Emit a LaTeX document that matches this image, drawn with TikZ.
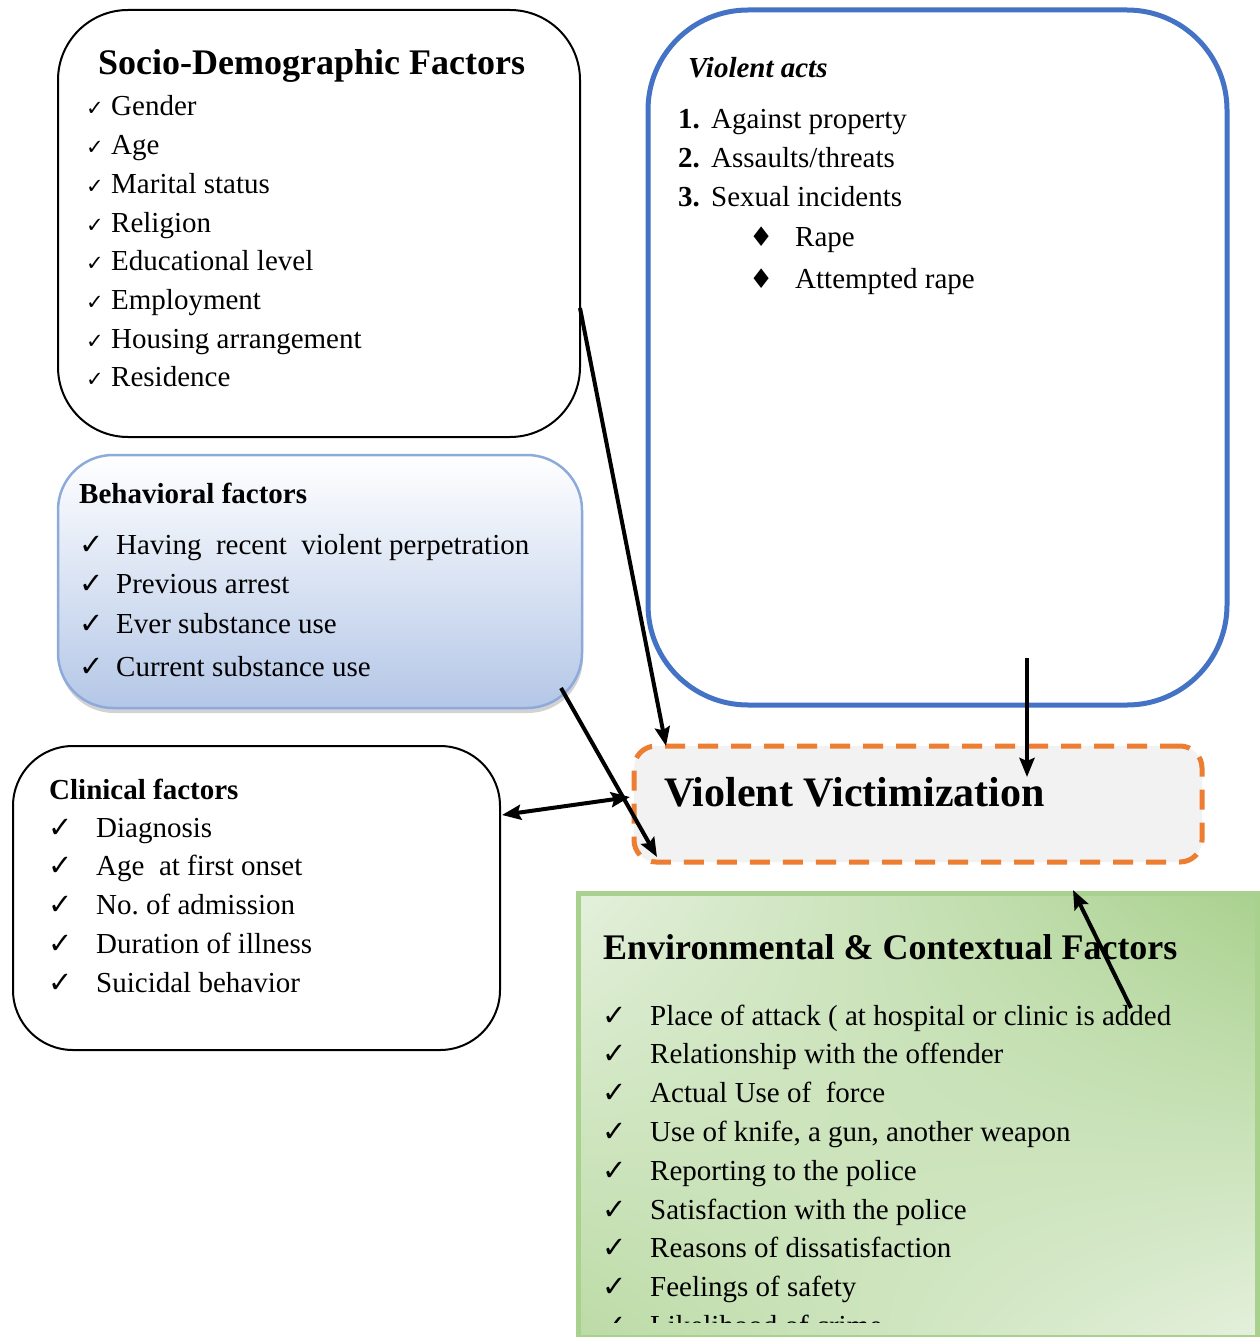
\documentclass[tikz,border=0pt]{standalone}
\usepackage{fontspec}
\setmainfont{Liberation Serif}
\newfontfamily\dejavu{DejaVu Sans}
\usetikzlibrary{arrows.meta,shadows,shadings}
\frenchspacing
\definecolor{actblue}{HTML}{4472C4}
\definecolor{behblue}{HTML}{B4C7E7}
\definecolor{behline}{HTML}{8EAADB}
\definecolor{vvorange}{HTML}{ED7D31}
\definecolor{vvgray}{HTML}{F2F2F2}
\definecolor{envlight}{HTML}{E4F0DC}
\definecolor{envmid}{HTML}{BCDBA6}
\definecolor{envdark}{HTML}{A9D18E}
\tikzset{
	bigtitle/.style={anchor=base west, inner sep=0pt, font=\fontsize{36}{40}\selectfont\bfseries},
	midtitle/.style={anchor=base west, inner sep=0pt, font=\fontsize{29}{34}\selectfont\bfseries},
	item/.style={anchor=base west, inner sep=0pt, font=\fontsize{29}{34}\selectfont},
	tick/.style={anchor=base west, inner sep=0pt, font=\dejavu\fontsize{29}{34}\selectfont},
	smalltick/.style={anchor=base west, inner sep=0pt, font=\dejavu\fontsize{21}{24}\selectfont},
	gem/.style={anchor=base west, inner sep=0pt, font=\dejavu\fontsize{27}{30}\selectfont},
	plainbox/.style={draw, line width=2pt, inner sep=0pt},
	link/.style={line width=4pt}
}
\begin{document}
\begin{tikzpicture}[x=1pt, y=-1pt, >={Stealth[length=19pt, width=15pt, inset=3pt]}]
	\useasboundingbox ( 0, 0 ) rectangle ( 1259, 1337 );
	\node [plainbox, rounded corners=70pt, minimum width=522pt, minimum height=427pt] (sdbox) at ( 319, 223.5 ) {};
	\node [draw=actblue, line width=5pt, rounded corners=100pt, minimum width=579pt, minimum height=695pt] (actbox) at ( 937.5, 357.5 ) {};
	\node [draw=behline, line width=2.5pt, rounded corners=55pt, top color=white, bottom color=behblue, drop shadow={shadow xshift=1pt, shadow yshift=-5pt, fill=black!35}, minimum width=524pt, minimum height=253pt] (behbox) at ( 320, 581.5 ) {};
	\node [plainbox, rounded corners=60pt, minimum width=487pt, minimum height=304pt] (clinbox) at ( 256.5, 898 ) {};
	\node [draw=vvorange, fill=vvgray, line width=5pt, dash pattern=on 20pt off 13pt, rounded corners=22pt, minimum width=568pt, minimum height=116pt] (vvbox) at ( 918, 804 ) {};
	\node [draw=envdark, line width=5pt, upper left=envlight, upper right=envdark, lower left=envmid, lower right=envlight, minimum width=679pt, minimum height=444pt] (envbox) at ( 917.5, 1115 ) {};
	\node [bigtitle] (sdtitle) at ( 98, 75 ) {Socio-Demographic Factors};
	\foreach \txt [count=\i] in {Gender, Age, Marital status, Religion, Educational level, Employment, Housing arrangement, Residence} {
		\node [smalltick] (sdtick\i) at ( 86, {116+38.7*(\i-1)} ) {✓};
		\node [item] (sditem\i) at ( 111, {116+38.7*(\i-1)} ) {\txt};
	}
	\node [midtitle, font=\fontsize{29}{34}\selectfont\bfseries\itshape] (acttitle) at ( 688, 78 ) {Violent acts};
	\foreach \txt [count=\i] in {Against property, Assaults/threats, Sexual incidents} {
		\node [midtitle] (actnum\i) at ( 678, {129+38.7*(\i-1)} ) {\i.};
		\node [item] (actitem\i) at ( 711, {129+38.7*(\i-1)} ) {\txt};
	}
	\foreach \txt [count=\i] in {Rape, Attempted rape} {
		\node [gem] (actgem\i) at ( 749, {247+41*(\i-1)} ) {♦};
		\node [item] (actsub\i) at ( 795, {247+41*(\i-1)} ) {\txt};
	}
	\node [midtitle] (behtitle) at ( 79, 503 ) {Behavioral factors};
	\foreach \y/\txt [count=\i] in {554/Having\ \ recent\ \ violent perpetration, 593/Previous arrest, 633/Ever substance use, 676/Current substance use} {
		\node [tick] (behtick\i) at ( 79, \y ) {✓};
		\node [item] (behitem\i) at ( 116, \y ) {\txt};
	}
	\node [midtitle] (clintitle) at ( 49, 799 ) {Clinical factors};
	\foreach \txt [count=\i] in {Diagnosis, Age\ \ at first onset, No. of admission, Duration of illness, Suicidal behavior} {
		\node [tick] (clintick\i) at ( 48, {837+38.8*(\i-1)} ) {✓};
		\node [item] (clinitem\i) at ( 96, {837+38.8*(\i-1)} ) {\txt};
	}
	\node [bigtitle, font=\fontsize{42}{46}\selectfont\bfseries] (vvtitle) at ( 664, 806 ) {Violent Victimization};
	\node [bigtitle] (envtitle) at ( 603, 959 ) {Environmental \& Contextual Factors};
	\begin{scope}
		\clip ( 578, 893 ) rectangle ( 1257, 1322 );
		\foreach \txt [count=\i] in {Place of attack ( at hospital or clinic is added, Relationship with the offender, Actual Use of\ \ force, {Use of knife, a gun, another weapon}, Reporting to the police, Satisfaction with the police, Reasons of dissatisfaction, Feelings of safety, Likelihood of crime} {
			\node [tick] (envtick\i) at ( 602, {1025+38.8*(\i-1)} ) {✓};
			\node [item] (envitem\i) at ( 650, {1025+38.8*(\i-1)} ) {\txt};
		}
	\end{scope}
	\coordinate (sdout) at ( 580, 308 );
	\coordinate (vvtopin) at ( 666, 746 );
	\coordinate (behout) at ( 561, 688 );
	\coordinate (vvlowin) at ( 657, 857 );
	\coordinate (vvleft) at ( 630, 797 );
	\coordinate (clinin) at ( 502, 815 );
	\coordinate (actout) at ( 1027, 658 );
	\coordinate (vvmidin) at ( 1027, 777 );
	\coordinate (envout) at ( 1131, 1008 );
	\coordinate (vvbelow) at ( 1073, 890 );
	\draw [->, link] (sdout) -- (vvtopin);
	\draw [->, link] (behout) -- (vvlowin);
	\draw [<->, link] (vvleft) -- (clinin);
	\draw [->, link] (actout) -- (vvmidin);
	\draw [->, link] (envout) -- (vvbelow);
\end{tikzpicture}
\end{document}
